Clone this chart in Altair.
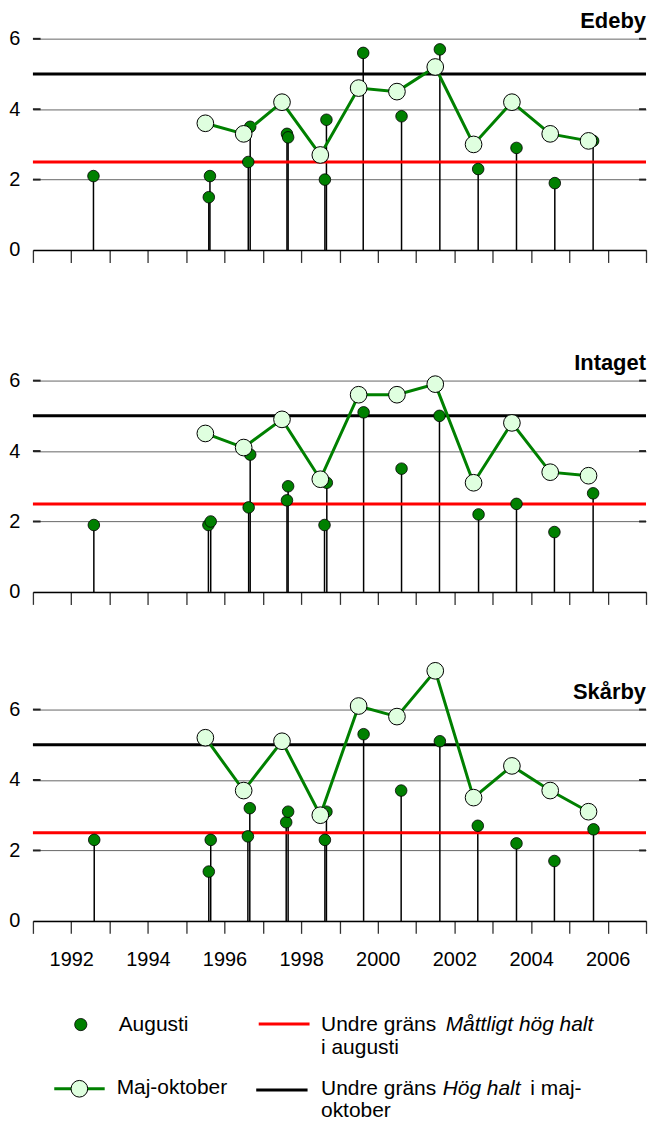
import altair as alt
import pandas as pd

FONT = "Liberation Sans"

# x axis: year ticks 1991-2007, labels on even years
YEAR_TICKS = list(range(1991, 2008))
GRID_VALUES = [2, 4, 6]
LIMIT_VALUES = [2.5, 5.0]
LIMIT_COLORS = ["#FF0000", "#000000"]

# Maj-oktober means, plotted mid year
MAJOKT_YEARS = [1995.5, 1996.5, 1997.5, 1998.5, 1999.5, 2000.5,
                2001.5, 2002.5, 2003.5, 2004.5, 2005.5]

# Edeby
EDEBY_AUG_YEARS = [1992.58, 1995.62, 1995.59, 1996.62, 1996.67, 1997.63, 1997.66,
                   1998.62, 1998.66, 1999.62, 2000.62, 2001.62, 2002.62, 2003.62,
                   2004.62, 2005.62]
EDEBY_AUG = [2.1, 2.1, 1.5, 2.5, 3.5, 3.3, 3.2, 2.0, 3.7, 5.6, 3.8, 5.7, 2.3, 2.9, 1.9, 3.1]
EDEBY_MAJOKT = [3.6, 3.3, 4.2, 2.7, 4.6, 4.5, 5.2, 3.0, 4.2, 3.3, 3.1]

# Intaget
INTAGET_AUG_YEARS = [1992.59, 1995.58, 1995.64, 1996.63, 1996.67, 1997.63, 1997.66,
                     1998.61, 1998.67, 1999.63, 2000.62, 2001.61, 2002.63, 2003.62,
                     2004.61, 2005.62]
INTAGET_AUG = [1.9, 1.9, 2.0, 2.4, 3.9, 2.6, 3.0, 1.9, 3.1, 5.1, 3.5, 5.0, 2.2, 2.5, 1.7, 2.8]
INTAGET_MAJOKT = [4.5, 4.1, 4.9, 3.2, 5.6, 5.6, 5.9, 3.1, 4.8, 3.4, 3.3]

# Skårby
SKARBY_AUG_YEARS = [1992.60, 1995.64, 1995.59, 1996.61, 1996.66, 1997.61, 1997.66,
                    1998.62, 1998.66, 1999.63, 2000.61, 2001.62, 2002.61, 2003.62,
                    2004.61, 2005.63]
SKARBY_AUG = [2.3, 2.3, 1.4, 2.4, 3.2, 2.8, 3.1, 2.3, 3.1, 5.3, 3.7, 5.1, 2.7, 2.2, 1.7, 2.6]
SKARBY_MAJOKT = [5.2, 3.7, 5.1, 3.0, 6.1, 5.8, 7.1, 3.5, 4.4, 3.7, 3.1]

WIDTH = 615
GREEN = "#008000"
PALE = "#DFFFDF"


def panel(name, aug_years, aug_vals, mo_vals, ymax, height, last=False):
    aug = pd.DataFrame({"year": aug_years, "value": aug_vals})
    mo = pd.DataFrame({"year": MAJOKT_YEARS, "value": mo_vals})
    limits = pd.DataFrame({"value": LIMIT_VALUES, "color": LIMIT_COLORS})
    inner = pd.DataFrame({
        "year": [1991] * 3 + [2006.82] * 3,
        "year2": [1991.2] * 3 + [2007] * 3,
        "value": GRID_VALUES * 2,
    })
    label = pd.DataFrame({"year": [2007], "value": [6.5], "name": [name]})

    x = alt.X(
        "year:Q",
        scale=alt.Scale(domain=[1991, 2007], nice=False, zero=False),
        axis=alt.Axis(
            values=YEAR_TICKS, labels=last, format="d",
            labelExpr="datum.value % 2 == 0 ? datum.label : ''",
            grid=False, tickSize=12.5, tickColor="#333333", tickWidth=1.3,
            domainColor="#000000", domainWidth=1.5,
            labelFontSize=20, labelPadding=16, labelColor="#000000",
            labelFlush=False, labelOverlap=False, title=None,
        ),
    )
    y = alt.Y(
        "value:Q",
        scale=alt.Scale(domain=[0, ymax], nice=False),
        axis=alt.Axis(
            values=[0] + GRID_VALUES, grid=True, gridColor="#666666", gridWidth=1,
            ticks=False, domain=False, labelPadding=13, labelFontSize=20,
            labelColor="#000000", title=None,
        ),
    )

    stems = alt.Chart(aug).mark_rule(color="black", strokeWidth=1.5).encode(
        x=x, y=y, y2=alt.datum(0)
    )
    lines = alt.Chart(limits).mark_rule(strokeWidth=3).encode(
        y=y, color=alt.Color("color:N", scale=None)
    )
    ticks = alt.Chart(inner).mark_rule(color="#222222", strokeWidth=2).encode(
        x=x, x2="year2:Q", y=y
    )
    dots = alt.Chart(aug).mark_circle(
        size=135, color=GREEN, stroke="black", strokeWidth=0.8, opacity=1
    ).encode(x=x, y=y)
    mo_line = alt.Chart(mo).mark_line(color=GREEN, strokeWidth=3).encode(x=x, y=y)
    mo_dots = alt.Chart(mo).mark_circle(
        size=280, fill=PALE, stroke="black", strokeWidth=1, opacity=1
    ).encode(x=x, y=y)
    title = alt.Chart(label).mark_text(
        align="right", baseline="middle", fontSize=22, fontWeight="bold",
        font=FONT, color="black"
    ).encode(x=x, y=y, text="name:N")

    return alt.layer(stems, lines, ticks, dots, mo_line, mo_dots, title).properties(
        width=WIDTH, height=height
    )


# panel 2 gets extra headroom so one spacing fits all gaps
p1 = panel("Edeby", EDEBY_AUG_YEARS, EDEBY_AUG, EDEBY_MAJOKT, 6.6, 233)
p2 = panel("Intaget", INTAGET_AUG_YEARS, INTAGET_AUG, INTAGET_MAJOKT, 7.87, 278)
p3 = panel("Skårby", SKARBY_AUG_YEARS, SKARBY_AUG, SKARBY_MAJOKT, 7.5, 265, last=True)

# legend layout, pixel positions inside the legend view
px = alt.X("x:Q", scale=None, axis=None)
py = alt.Y("y:Q", scale=None, axis=None)

leg_text = pd.DataFrame({
    "x": [86, 289, 289, 84, 289, 499, 289],
    "y": [39, 39, 63, 103, 104, 104, 126],
    "text": ["Augusti", "Undre gräns", "i augusti", "Maj-oktober",
             "Undre gräns", "i maj-", "oktober"],
})
leg_italic = pd.DataFrame({
    "x": [414, 411],
    "y": [39, 104],
    "text": ["Måttligt hög halt", "Hög halt"],
})
leg_rules = pd.DataFrame({
    "x": [226.5, 21.4, 224],
    "x2": [277.5, 72, 275.5],
    "y": [38.4, 103.4, 104.7],
    "color": ["#FF0000", GREEN, "#000000"],
})
leg_aug = pd.DataFrame({"x": [48], "y": [39]})
leg_mo = pd.DataFrame({"x": [46.6], "y": [103.4]})

legend = alt.layer(
    alt.Chart(leg_rules).mark_rule(strokeWidth=3).encode(
        x=px, x2="x2:Q", y=py, color=alt.Color("color:N", scale=None)
    ),
    alt.Chart(leg_aug).mark_circle(
        size=150, color=GREEN, stroke="black", strokeWidth=0.8, opacity=1
    ).encode(x=px, y=py),
    alt.Chart(leg_mo).mark_circle(
        size=280, fill=PALE, stroke="black", strokeWidth=1, opacity=1
    ).encode(x=px, y=py),
    alt.Chart(leg_text).mark_text(
        align="left", baseline="middle", fontSize=21, font=FONT, color="black"
    ).encode(x=px, y=py, text="text:N"),
    alt.Chart(leg_italic).mark_text(
        align="left", baseline="middle", fontSize=21, font=FONT, color="black",
        fontStyle="italic"
    ).encode(x=px, y=py, text="text:N"),
).properties(width=WIDTH, height=110)

chart = (
    alt.vconcat(p1, p2, p3, legend, spacing=65, bounds="flush")
    .properties(padding={"left": 0, "top": 0, "right": 0, "bottom": 0})
    .configure_view(stroke=None)
    .configure_axis(labelFont=FONT)
)

chart.save("out.html", embed_options={"renderer": "svg", "actions": False})
